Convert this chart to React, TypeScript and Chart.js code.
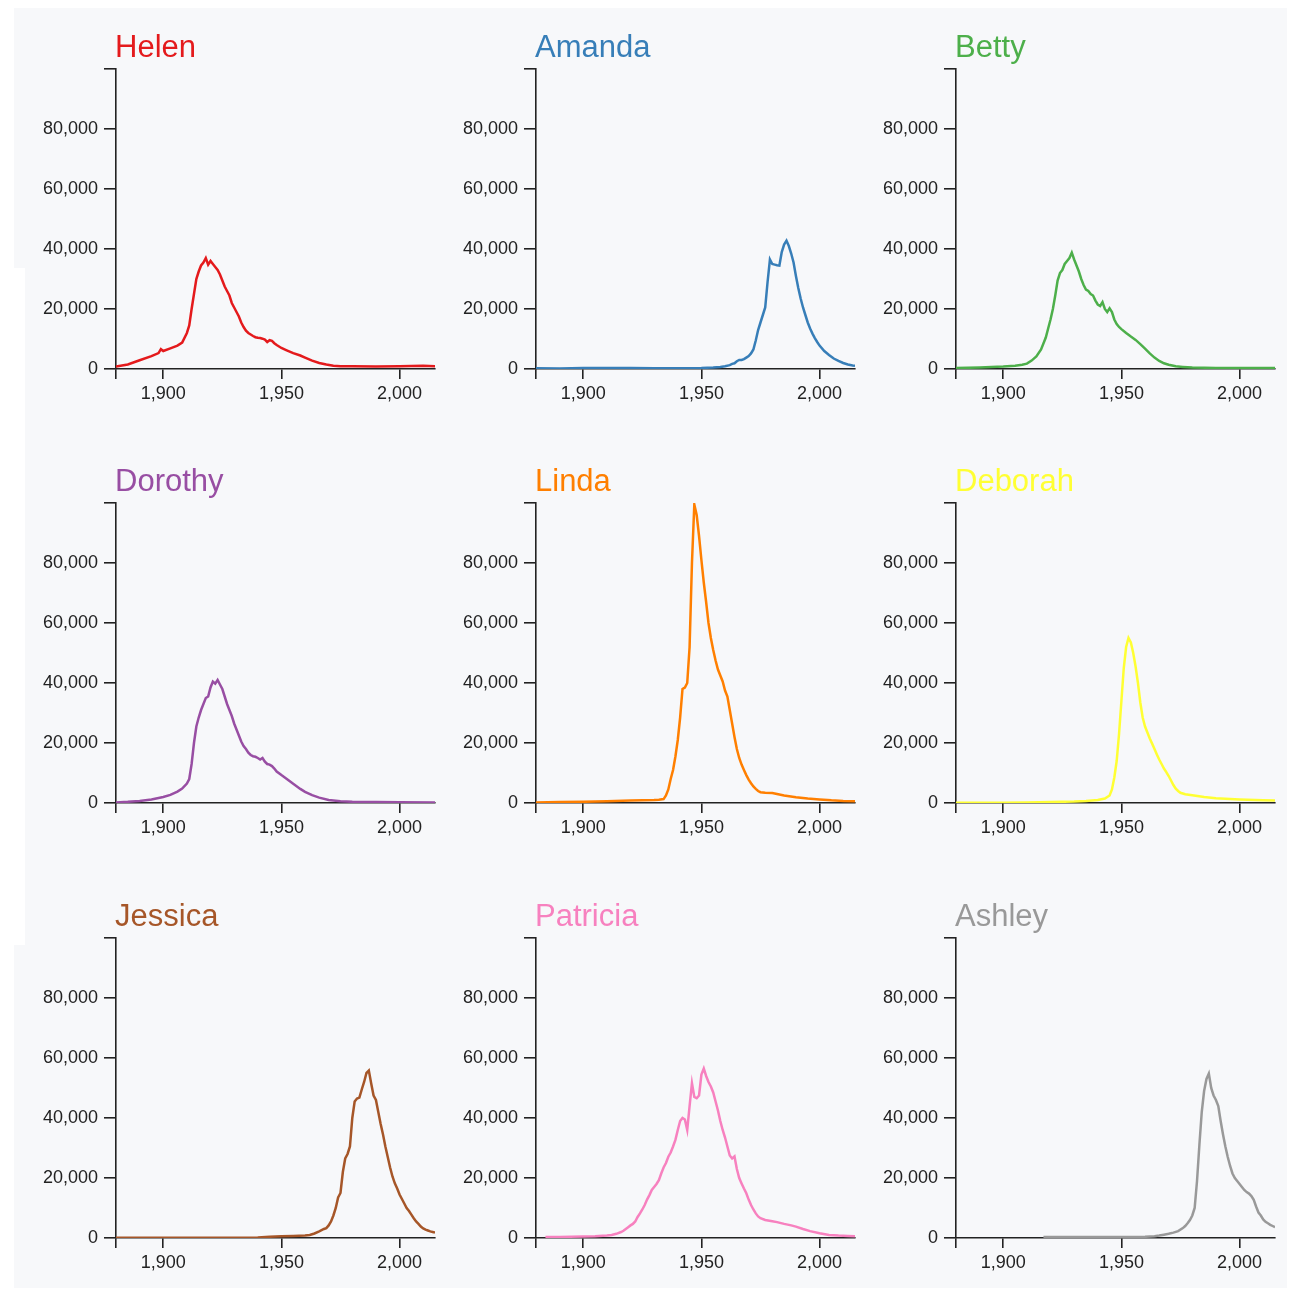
import React, { useEffect, useRef } from 'react';
import { Chart, registerables } from 'chart.js';

Chart.register(...registerables);

const names = ['Helen', 'Amanda', 'Betty', 'Dorothy', 'Linda', 'Deborah', 'Jessica', 'Patricia', 'Ashley'];
const colors = ['#e41a1c', '#377eb8', '#4daf4a', '#984ea3', '#ff7f00', '#ffff33', '#a65628', '#f781bf', '#999999'];

const yTicks = [0, 20000, 40000, 60000, 80000, 100000];
const xTicks = [1880, 1900, 1950, 2000];

const helenYears = [1880, 1885, 1890, 1895, 1898, 1899, 1900, 1903, 1906, 1908, 1910, 1911, 1912, 1913, 1914, 1915, 1916, 1917, 1918, 1919, 1920, 1921, 1922, 1923, 1924, 1925, 1926, 1927, 1928, 1929, 1930, 1931, 1932, 1933, 1934, 1935, 1936, 1937, 1938, 1939, 1940, 1941, 1942, 1943, 1944, 1945, 1946, 1947, 1948, 1950, 1952, 1955, 1958, 1960, 1963, 1966, 1969, 1972, 1975, 1980, 1990, 2000, 2005, 2010, 2015];
const helenCounts = [800, 1500, 2900, 4300, 5300, 6600, 6000, 6900, 7800, 8800, 12000, 14500, 20000, 25000, 30000, 32500, 34500, 35500, 37000, 34800, 36000, 35000, 34000, 33000, 31500, 29500, 27500, 26000, 24500, 22000, 20500, 19000, 17500, 15500, 14000, 12800, 12000, 11500, 11000, 10600, 10400, 10300, 10100, 9800, 9000, 9600, 9400, 8600, 8000, 7000, 6300, 5300, 4500, 3800, 2800, 2000, 1500, 1100, 900, 900, 850, 900, 1000, 1050, 950];

const amandaYears = [1880, 1890, 1900, 1910, 1920, 1930, 1940, 1950, 1955, 1958, 1960, 1962, 1963, 1964, 1965, 1966, 1967, 1968, 1969, 1970, 1971, 1972, 1973, 1974, 1975, 1976, 1977, 1978, 1979, 1980, 1981, 1982, 1983, 1984, 1985, 1986, 1987, 1988, 1989, 1990, 1991, 1992, 1993, 1994, 1995, 1996, 1997, 1998, 1999, 2000, 2002, 2004, 2006, 2008, 2010, 2012, 2014, 2015];
const amandaCounts = [250, 200, 300, 300, 300, 250, 250, 350, 500, 700, 900, 1300, 1700, 1900, 2600, 3000, 3000, 3300, 3800, 4300, 5200, 6500, 9500, 13000, 15500, 18000, 20500, 29000, 36500, 35000, 34800, 34600, 34500, 39000, 41500, 42800, 41000, 38500, 35500, 31000, 27000, 23500, 20500, 18000, 15500, 13500, 11800, 10300, 9000, 7800, 6000, 4700, 3500, 2700, 2000, 1500, 1200, 1100];

const bettyYears = [1880, 1890, 1900, 1905, 1908, 1910, 1912, 1914, 1916, 1918, 1919, 1920, 1921, 1922, 1923, 1924, 1925, 1926, 1927, 1928, 1929, 1930, 1931, 1932, 1933, 1934, 1935, 1936, 1937, 1938, 1939, 1940, 1941, 1942, 1943, 1944, 1945, 1946, 1947, 1948, 1949, 1950, 1952, 1954, 1956, 1958, 1960, 1962, 1964, 1966, 1968, 1970, 1973, 1976, 1980, 1990, 2000, 2015];
const bettyCounts = [300, 500, 800, 1100, 1400, 1800, 2800, 4200, 6500, 10500, 13500, 16500, 20000, 24500, 29500, 32000, 33000, 35000, 36000, 37000, 38800, 36500, 34500, 32500, 30000, 28000, 26500, 26000, 25000, 24500, 22800, 21500, 21000, 22300, 20000, 19000, 20200, 19000, 16500, 15000, 14000, 13300, 12000, 10800, 9700, 8300, 6800, 5200, 3800, 2700, 1900, 1400, 900, 700, 500, 350, 300, 300];

const dorothyYears = [1880, 1885, 1890, 1895, 1900, 1903, 1906, 1908, 1910, 1911, 1912, 1913, 1914, 1915, 1916, 1917, 1918, 1919, 1920, 1921, 1922, 1923, 1924, 1925, 1926, 1927, 1928, 1929, 1930, 1931, 1932, 1933, 1934, 1935, 1936, 1937, 1938, 1939, 1940, 1941, 1942, 1943, 1944, 1945, 1946, 1947, 1948, 1950, 1952, 1955, 1958, 1960, 1963, 1966, 1970, 1975, 1980, 1990, 2000, 2015];
const dorothyCounts = [200, 400, 700, 1200, 2000, 2700, 3800, 4800, 6500, 8000, 13000, 20000, 25500, 28500, 31000, 33000, 35000, 35500, 38500, 40500, 39800, 41000, 39500, 38000, 35500, 33000, 31000, 29000, 26500, 24500, 22500, 20500, 19000, 18000, 16800, 16000, 15600, 15400, 15000, 14500, 15000, 13800, 13000, 12800, 12300, 11500, 10500, 9300, 8200, 6400, 4700, 3700, 2600, 1800, 1000, 600, 400, 300, 250, 200];

const lindaYears = [1880, 1890, 1900, 1910, 1920, 1925, 1930, 1932, 1934, 1935, 1936, 1937, 1938, 1939, 1940, 1941, 1942, 1943, 1944, 1945, 1946, 1947, 1948, 1949, 1950, 1951, 1952, 1953, 1954, 1955, 1956, 1957, 1958, 1959, 1960, 1961, 1962, 1963, 1964, 1965, 1966, 1967, 1968, 1969, 1970, 1971, 1972, 1973, 1974, 1975, 1977, 1980, 1982, 1985, 1990, 1995, 2000, 2005, 2010, 2015];
const lindaCounts = [200, 300, 400, 600, 800, 900, 1000, 1100, 1300, 2500, 4500, 8000, 11000, 15500, 21000, 28500, 38000, 38500, 40000, 52000, 80000, 99500, 96000, 89000, 81000, 73500, 67000, 60000, 55000, 51000, 47500, 44500, 42500, 40500, 37500, 35500, 31000, 26500, 22000, 18000, 15000, 12800, 11000, 9300, 7800, 6600, 5500, 4700, 4000, 3600, 3400, 3300, 3000, 2500, 1900, 1500, 1200, 900, 700, 600];

const deborahYears = [1880, 1900, 1910, 1920, 1930, 1935, 1940, 1943, 1945, 1946, 1947, 1948, 1949, 1950, 1951, 1952, 1953, 1954, 1955, 1956, 1957, 1958, 1959, 1960, 1961, 1962, 1963, 1964, 1965, 1966, 1967, 1968, 1969, 1970, 1971, 1972, 1973, 1974, 1975, 1977, 1980, 1985, 1990, 2000, 2010, 2015];
const deborahCounts = [50, 100, 150, 300, 500, 700, 1000, 1500, 2500, 4500, 8500, 14000, 23000, 34000, 45000, 52000, 55000, 53500, 50000, 45500, 40000, 33500, 28500, 25500, 23500, 21500, 19800, 18000, 16200, 14500, 13000, 11500, 10300, 9000, 7500, 6000, 4800, 4000, 3400, 2900, 2600, 2000, 1600, 1200, 900, 800];

const jessicaYears = [1880, 1900, 1920, 1940, 1945, 1950, 1955, 1960, 1962, 1964, 1966, 1968, 1969, 1970, 1971, 1972, 1973, 1974, 1975, 1976, 1977, 1978, 1979, 1980, 1981, 1982, 1983, 1984, 1985, 1986, 1987, 1988, 1989, 1990, 1991, 1992, 1993, 1994, 1995, 1996, 1997, 1998, 1999, 2000, 2001, 2002, 2003, 2004, 2005, 2006, 2007, 2008, 2009, 2010, 2011, 2012, 2013, 2014, 2015];
const jessicaCounts = [50, 50, 100, 200, 400, 600, 700, 800, 1000, 1500, 2200, 3000, 3300, 4200, 5500, 7500, 10000, 13500, 15000, 22000, 26500, 28000, 30500, 40000, 45500, 46500, 46800, 49500, 52000, 55000, 55800, 51500, 47500, 46000, 42000, 38000, 34500, 30500, 27000, 23500, 20500, 18200, 16500, 14500, 13000, 11500, 10000, 9000, 7800, 6600, 5500, 4700, 3800, 3200, 2800, 2500, 2200, 2000, 1800];

const patriciaYears = [1884, 1890, 1900, 1905, 1910, 1912, 1914, 1916, 1917, 1918, 1919, 1920, 1921, 1922, 1923, 1924, 1925, 1926, 1927, 1928, 1929, 1930, 1931, 1932, 1933, 1934, 1935, 1936, 1937, 1938, 1939, 1940, 1941, 1942, 1943, 1944, 1945, 1946, 1947, 1948, 1949, 1950, 1951, 1952, 1953, 1954, 1955, 1956, 1957, 1958, 1959, 1960, 1961, 1962, 1963, 1964, 1965, 1966, 1967, 1968, 1969, 1970, 1971, 1972, 1973, 1974, 1975, 1977, 1980, 1982, 1985, 1988, 1990, 1993, 1996, 2000, 2004, 2008, 2012, 2015];
const patriciaCounts = [300, 350, 500, 600, 800, 1000, 1400, 2000, 2400, 3000, 3600, 4200, 4700, 5500, 7000, 8200, 9500, 11000, 12800, 14300, 16000, 17000, 18000, 19300, 21500, 23500, 25000, 27100, 28500, 30500, 32700, 36000, 39000, 40000, 39500, 36000, 44000, 51600, 47000, 46600, 47500, 54500, 56500, 54000, 52000, 50500, 48500, 45500, 42500, 39000, 36000, 33500, 30500, 27500, 26500, 27200, 23000, 20000, 18200, 16500, 14900, 12800, 11000, 9500, 8200, 7200, 6600, 6000, 5600, 5300, 4700, 4200, 3800, 3000, 2300, 1600, 1000, 800, 700, 600];

const ashleyYears = [1917, 1920, 1930, 1940, 1950, 1960, 1964, 1966, 1968, 1970, 1972, 1974, 1976, 1977, 1978, 1979, 1980, 1981, 1982, 1983, 1984, 1985, 1986, 1987, 1988, 1989, 1990, 1991, 1992, 1993, 1994, 1995, 1996, 1997, 1998, 1999, 2000, 2001, 2002, 2003, 2004, 2005, 2006, 2007, 2008, 2009, 2010, 2011, 2012, 2013, 2014, 2015];
const ashleyCounts = [300, 300, 300, 300, 350, 400, 600, 800, 1100, 1400, 1800, 2300, 3300, 4000, 4900, 6000, 7500, 10000, 19000, 31000, 42000, 49000, 53000, 54800, 50000, 47500, 46000, 44000, 39000, 34500, 30500, 27000, 24000, 21500, 20000, 19000, 18000, 17000, 16000, 15300, 14800, 14000, 12700, 10500, 8500, 7500, 6200, 5400, 4900, 4400, 4000, 3600];

const seriesYears = [helenYears, amandaYears, bettyYears, dorothyYears, lindaYears, deborahYears, jessicaYears, patriciaYears, ashleyYears];
const seriesCounts = [helenCounts, amandaCounts, bettyCounts, dorothyCounts, lindaCounts, deborahCounts, jessicaCounts, patriciaCounts, ashleyCounts];

const FONT = '"Liberation Sans", Arial, Helvetica, sans-serif';
const AXIS = '#222';

const rowTops = [19, 453, 888];

function Panel({ idx }: { idx: number }) {
  const ref = useRef<HTMLCanvasElement>(null);
  useEffect(() => {
    const name = names[idx];
    const color = colors[idx];
    const years = seriesYears[idx];
    const counts = seriesCounts[idx];
    const titlePlugin = {
      id: 'panelTitle',
      afterDraw(chart: any) {
        const ctx = chart.ctx;
        const a = chart.chartArea;
        ctx.save();
        ctx.font = `31px ${FONT}`;
        ctx.fillStyle = color;
        ctx.textAlign = 'left';
        ctx.textBaseline = 'alphabetic';
        ctx.fillText(name, a.left - 1, a.top - 12);
        ctx.restore();
      },
    };
    const chart = new Chart(ref.current as HTMLCanvasElement, {
      type: 'line',
      data: {
        datasets: [
          {
            data: years.map((y, i) => ({ x: y, y: counts[i] })),
            borderColor: color,
            borderWidth: 2.5,
            pointRadius: 0,
            fill: false,
            tension: 0,
          },
        ],
      },
      options: {
        responsive: false,
        animation: false,
        devicePixelRatio: 1,
        layout: { padding: { top: 50, right: 5, left: 0, bottom: 0 } },
        plugins: {
          legend: { display: false },
          tooltip: { enabled: false },
          title: { display: false },
        },
        scales: {
          x: {
            type: 'linear',
            min: 1880,
            max: 2015,
            afterBuildTicks: (sc: any) => {
              sc.ticks = xTicks.map((v) => ({ value: v }));
            },
            afterFit: (sc: any) => {
              sc.height = 50;
            },
            grid: { display: true, drawOnChartArea: false, drawTicks: true, tickLength: 10, color: AXIS, lineWidth: 1.6 },
            border: { display: true, color: AXIS, width: 1.6 },
            ticks: {
              padding: 4,
              color: AXIS,
              font: { family: FONT, size: 18 },
              maxRotation: 0,
              autoSkip: false,
              callback: (v: any) => (v === 1880 ? '' : Number(v).toLocaleString('en-US')),
            },
          },
          y: {
            type: 'linear',
            min: 0,
            max: 100000,
            afterBuildTicks: (sc: any) => {
              sc.ticks = yTicks.map((v) => ({ value: v }));
            },
            afterFit: (sc: any) => {
              sc.width = 96;
            },
            grid: { display: true, drawOnChartArea: false, drawTicks: true, tickLength: 12, color: AXIS, lineWidth: 1.6 },
            border: { display: true, color: AXIS, width: 1.6 },
            ticks: {
              padding: 6,
              color: AXIS,
              font: { family: FONT, size: 18 },
              autoSkip: false,
              callback: (v: any) => (v === 100000 ? '' : Number(v).toLocaleString('en-US')),
            },
          },
        },
      } as any,
      plugins: [titlePlugin],
    });
    return () => chart.destroy();
  }, [idx]);

  const col = idx % 3;
  const row = Math.floor(idx / 3);
  return (
    <canvas
      ref={ref}
      width={420}
      height={400}
      style={{ position: 'absolute', left: 20 + 420 * col, top: rowTops[row], width: 420, height: 400 }}
    />
  );
}

export default function App() {
  return (
    <div style={{ position: 'absolute', left: 0, top: 0, width: 1295, height: 1289, background: '#ffffff' }}>
      <div style={{ position: 'absolute', left: 14, top: 8, width: 1273, height: 1280, background: '#f7f8fa' }} />
      <div style={{ position: 'absolute', left: 14, top: 268, width: 11, height: 677, background: '#ffffff' }} />
      {names.map((n, i) => (
        <Panel key={n} idx={i} />
      ))}
    </div>
  );
}
